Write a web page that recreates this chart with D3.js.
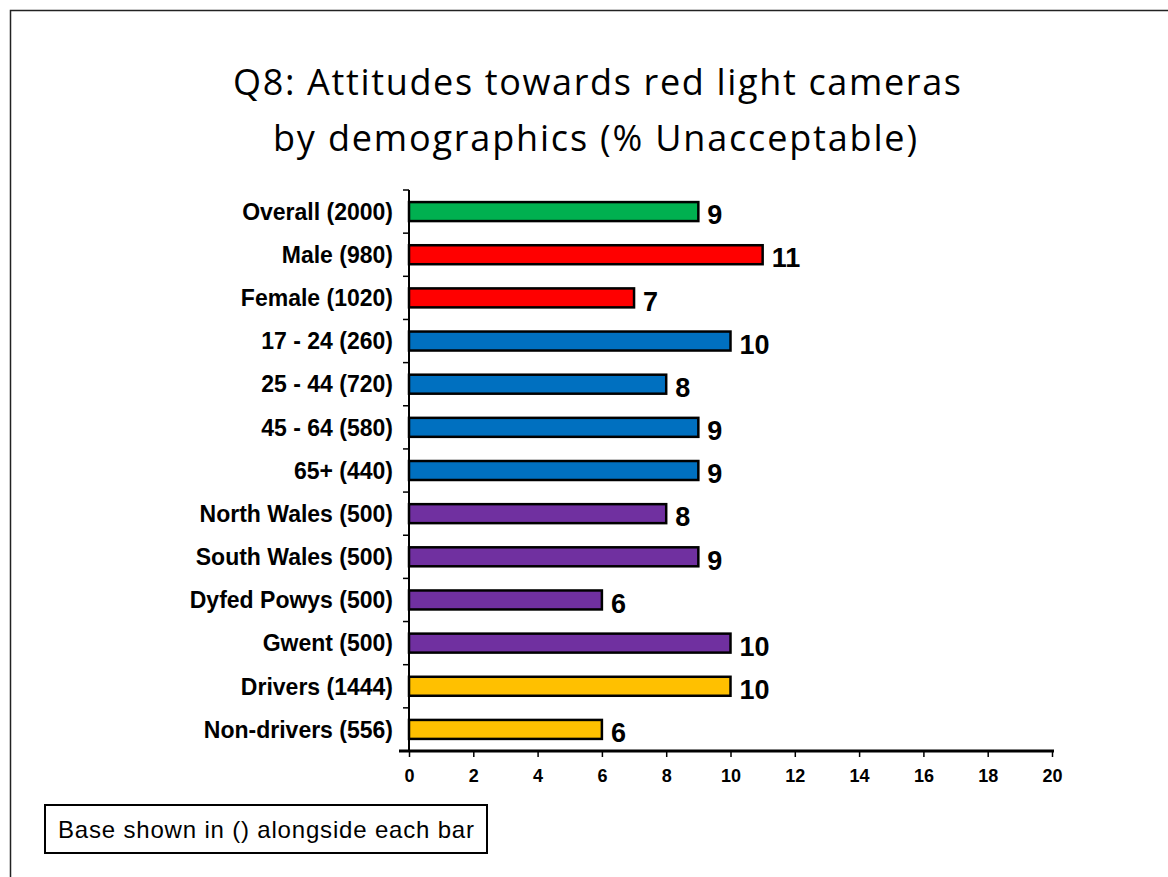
<!DOCTYPE html>
<html>
<head>
<meta charset="utf-8">
<script src="https://cdn.jsdelivr.net/npm/d3@7"></script>
<style>
  html, body { margin: 0; padding: 0; background: #fff; }
  svg { display: block; }
  .cat { font-family: Arial, "Liberation Sans", sans-serif; font-weight: bold; font-size: 23px; }
  .val { font-family: Arial, "Liberation Sans", sans-serif; font-weight: bold; font-size: 27px; }
  .title { font-family: "Open Sans", Lato, sans-serif; font-size: 36px; }
</style>
</head>
<body>
<svg id="chart" width="1168" height="877"></svg>
<script>
const categories = [
  "Overall (2000)", "Male (980)", "Female (1020)", "17 - 24 (260)", "25 - 44 (720)",
  "45 - 64 (580)", "65+ (440)", "North Wales (500)", "South Wales (500)",
  "Dyfed Powys (500)", "Gwent (500)", "Drivers (1444)", "Non-drivers (556)"
];
const values = [9, 11, 7, 10, 8, 9, 9, 8, 9, 6, 10, 10, 6];
const groups = ["overall", "gender", "gender", "age", "age", "age", "age",
  "region", "region", "region", "region", "driver", "driver"];
const groupColors = { overall: "#00B050", gender: "#FF0000", age: "#0070C0", region: "#7030A0", driver: "#FFC000" };
const xTicks = [0, 2, 4, 6, 8, 10, 12, 14, 16, 18, 20];

const svg = d3.select("#chart");

// slide frame (only top and left edges are visible)
svg.append("rect")
  .attr("x", 10.5).attr("y", 10.5)
  .attr("width", 1400).attr("height", 1400)
  .attr("fill", "none").attr("stroke", "#222").attr("stroke-width", 1.5);

// title, stretched to the reference width
const title = svg.append("text").attr("class", "title").attr("text-anchor", "middle").attr("fill", "#000");
title.append("tspan").attr("x", 597).attr("y", 95)
  .attr("textLength", 728).attr("lengthAdjust", "spacing")
  .text("Q8: Attitudes towards red light cameras");
title.append("tspan").attr("x", 595).attr("y", 151)
  .attr("textLength", 644).attr("lengthAdjust", "spacing")
  .text("by demographics (% Unacceptable)");

const x = d3.scaleLinear().domain([0, 20]).range([409, 1052]);
const y = d3.scaleBand().domain(categories).range([190, 751]).paddingInner(0.56).paddingOuter(0.28);

// bars
svg.append("g")
  .selectAll("rect")
  .data(categories)
  .join("rect")
  .attr("x", x(0))
  .attr("y", d => y(d))
  .attr("width", (d, i) => x(values[i]) - x(0))
  .attr("height", y.bandwidth())
  .attr("fill", (d, i) => groupColors[groups[i]])
  .attr("stroke", "#000")
  .attr("stroke-width", 2.5);

// value labels
svg.append("g")
  .selectAll("text")
  .data(categories)
  .join("text")
  .attr("class", "val")
  .attr("x", (d, i) => x(values[i]) + 9)
  .attr("y", d => y(d) + y.bandwidth() / 2 + 3)
  .attr("dy", "0.36em")
  .text((d, i) => values[i]);

// category labels
svg.append("g")
  .selectAll("text")
  .data(categories)
  .join("text")
  .attr("class", "cat")
  .attr("x", 393)
  .attr("y", d => y(d) + y.bandwidth() / 2)
  .attr("dy", "0.36em")
  .attr("text-anchor", "end")
  .text(d => d);

// y axis line and boundary ticks
const step = y.step();
const yTop = y(categories[0]) - y.paddingOuter() * step;
svg.append("line")
  .attr("x1", x(0)).attr("x2", x(0))
  .attr("y1", yTop).attr("y2", yTop + step * categories.length)
  .attr("stroke", "#000").attr("stroke-width", 2);
svg.append("g")
  .selectAll("line")
  .data(d3.range(categories.length + 1))
  .join("line")
  .attr("x1", x(0) - 6).attr("x2", x(0))
  .attr("y1", i => yTop + i * step).attr("y2", i => yTop + i * step)
  .attr("stroke", "#000").attr("stroke-width", 1.5);

// x axis
const xAxis = svg.append("g")
  .attr("transform", `translate(0,${yTop + step * categories.length})`)
  .call(d3.axisBottom(x).tickValues(xTicks).tickSize(6).tickSizeOuter(0).tickPadding(12));
xAxis.select(".domain").attr("stroke", "#000").attr("stroke-width", 3)
  .attr("d", `M${x(0) - 10},0H${x(20) + 2}`);
xAxis.selectAll(".tick line").attr("stroke", "#000").attr("stroke-width", 1.5);
xAxis.selectAll(".tick text")
  .attr("font-family", "Arial, 'Liberation Sans', sans-serif")
  .attr("font-weight", "bold").attr("font-size", 18).attr("fill", "#000");

// base note
svg.append("rect")
  .attr("x", 45).attr("y", 805).attr("width", 442).attr("height", 48)
  .attr("fill", "#fff").attr("stroke", "#000").attr("stroke-width", 2);
svg.append("text")
  .attr("x", 58).attr("y", 838)
  .attr("font-family", "Arial, 'Liberation Sans', sans-serif")
  .attr("font-size", 24)
  .attr("textLength", 416).attr("lengthAdjust", "spacing")
  .text("Base shown in () alongside each bar");
</script>
</body>
</html>
